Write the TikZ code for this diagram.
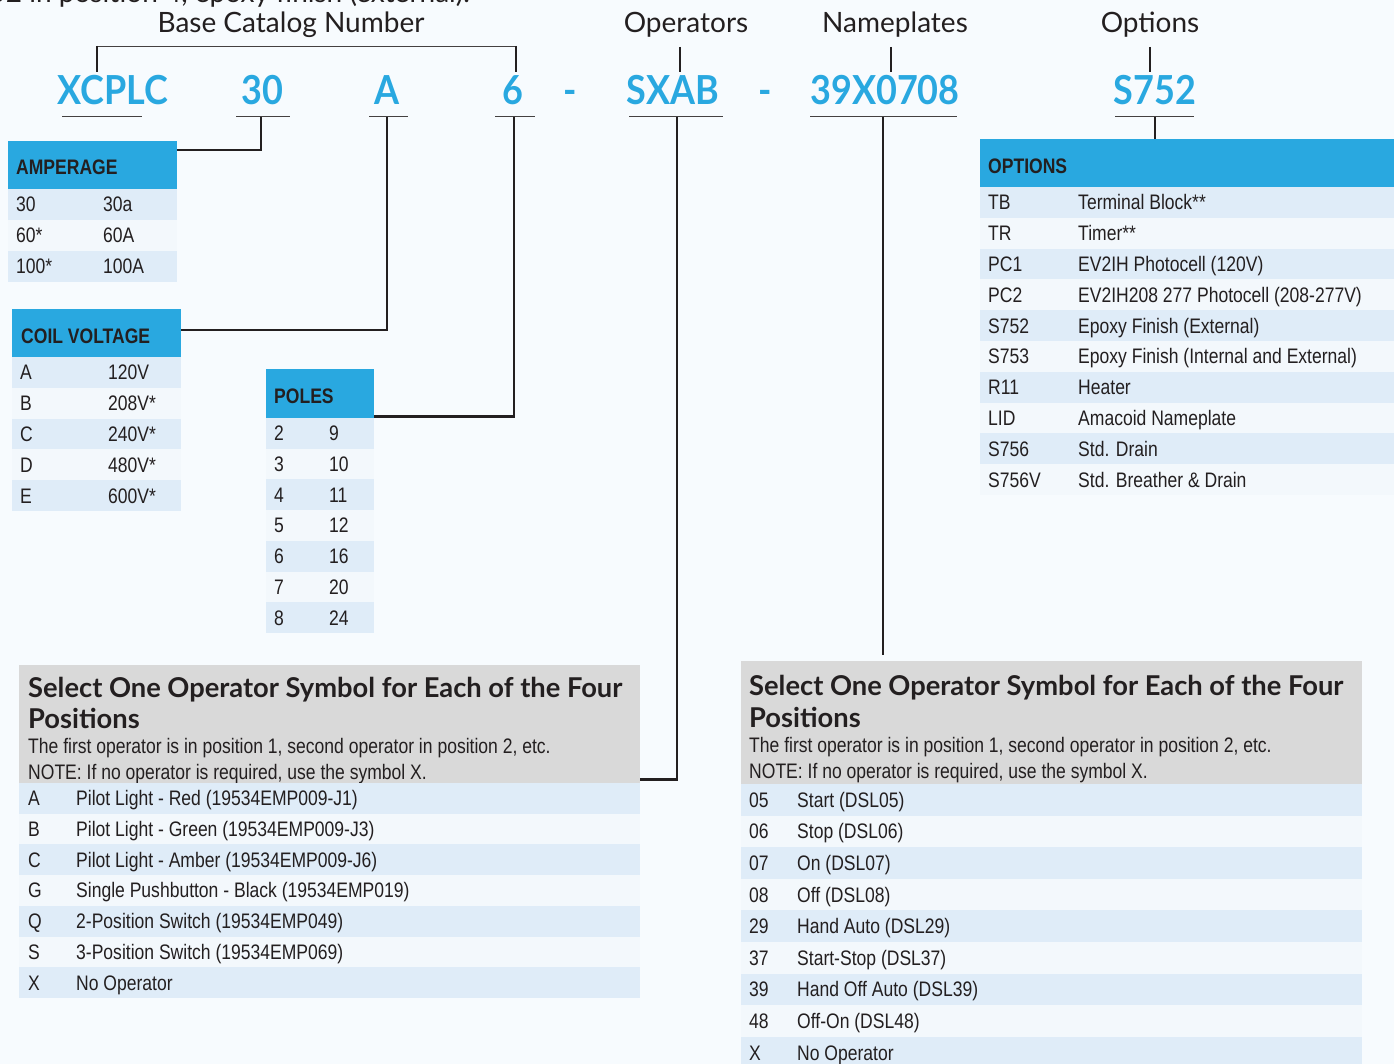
\documentclass[tikz,border=0pt]{standalone}
\usepackage{fontspec}
\setmainfont{Lato}
\newfontfamily\narrow[FakeStretch=0.835]{Liberation Sans}
\newfontfamily\codefont[FakeStretch=0.9]{Lato}
\definecolor{bg}{HTML}{F7FBFE}
\definecolor{hblue}{HTML}{29A8E0}
\definecolor{rowa}{HTML}{DFECF8}
\definecolor{rowb}{HTML}{F3F8FC}
\definecolor{gbox}{HTML}{D9D9D9}
\definecolor{ink}{HTML}{231F20}
\definecolor{codeblue}{HTML}{29A8E0}
\newcommand\tabrows[8]{%
\foreach \a/\b [count=\i from 0] in {#8}{
  \pgfmathtruncatemacro\oddrow{mod(\i,2)}
  \pgfmathsetmacro\yt{#4+\i*#5}
  \pgfmathsetmacro\yb{\yt+#5}
  \pgfmathsetmacro\ybase{\yt+#5/2+7.5}
  \ifnum\oddrow=0 \def\rc{rowa}\else\def\rc{rowb}\fi
  \fill[\rc] (#2,\yt) rectangle (#3,\yb);
  \node[cell] (#1-\i-a) at (#6,\ybase) {\a};
  \node[cell] (#1-\i-b) at (#7,\ybase) {\b};
}}
\begin{document}
\begin{tikzpicture}[x=1pt,y=-1pt,
  toplabel/.style={font=\fontsize{28}{30}\selectfont, text=ink, anchor=base, inner sep=0},
  codetxt/.style={font=\codefont\fontsize{40}{42}\selectfont\bfseries, text=codeblue, anchor=base, inner sep=0},
  cell/.style={font=\narrow\fontsize{21}{23}\selectfont, text=ink, anchor=base west, inner sep=0},
  hdrtxt/.style={font=\narrow\fontsize{21}{22}\selectfont\bfseries, text=ink, anchor=base west, inner sep=0},
  hdrbox/.style={fill=hblue, anchor=north west, inner sep=0},
  graybox/.style={fill=gbox, anchor=north west, inner sep=0},
  gtitle/.style={font=\fontsize{27.3}{29}\selectfont\bfseries, text=ink, anchor=base west, inner sep=0},
  gbody/.style={font=\narrow\fontsize{21}{23}\selectfont, text=ink, anchor=base west, inner sep=0},
  conn/.style={draw=ink, line width=2.5pt},
  uline/.style={draw=ink!85, line width=1pt},
  thinl/.style={draw=ink!85, line width=0.9pt}]
\useasboundingbox (0,0) rectangle (1394,1064);
\clip (0,0) rectangle (1394,1064);
\fill[bg] (0,0) rectangle (1394,1064);

% cut-off text at the very top
\node[toplabel, anchor=base east] (cut) at (470,3) {option S752 in position 4, epoxy finish (external).};

% top labels
\node[toplabel] (lbase) at (291,33) {Base Catalog Number};
\node[toplabel] (lops) at (686,33) {Operators};
\node[toplabel] (lname) at (895,33) {Nameplates};
\node[toplabel] (lopt) at (1150,33) {Options};

\draw[thinl] (97,46) -- (516,46);
\draw[conn] (97,46) -- (97,72);
\draw[conn] (516,46) -- (516,72);
\draw[conn] (680,47) -- (680,72);
\draw[conn] (891,47) -- (891,72);
\draw[conn] (1150,47) -- (1150,72);

% code row
\node[codetxt] (cx) at (113,105) {XCPLC};
\node[codetxt] (c30) at (262,105) {30};
\node[codetxt] (ca) at (387,105) {A};
\node[codetxt] (c6) at (513,105) {6};
\node[codetxt] (d1) at (570,105) {-};
\node[codetxt] (cs) at (673,105) {SXAB};
\node[codetxt] (d2) at (765,105) {-};
\node[codetxt] (cn) at (885,105) {39X0708};
\node[codetxt] (co) at (1155,105) {S752};

\draw[uline] (62,117) -- (142,117);
\draw[uline] (236,117) -- (290,117);
\draw[uline] (369,117) -- (408,117);
\draw[uline] (495,117) -- (535,117);
\draw[uline] (629,117) -- (723,117);
\draw[uline] (810,117) -- (957,117);
\draw[uline] (1115,117) -- (1194,117);

\coordinate (u30) at (261,117);
\coordinate (ua) at (387,117);
\coordinate (u6) at (514,117);
\coordinate (us) at (677,117);
\coordinate (un) at (883,117);
\coordinate (uo) at (1155,117);

% AMPERAGE
\node[hdrbox, minimum width=169pt, minimum height=48pt] (amph) at (8,141) {};
\node[hdrtxt] (ampt) at (16,175) {AMPERAGE};
\tabrows{amp}{8}{177}{189}{31}{16}{103}{30/30a, 60*/60A, 100*/100A}

% COIL VOLTAGE
\node[hdrbox, minimum width=169pt, minimum height=48pt] (coilh) at (12,309) {};
\node[hdrtxt] (coilt) at (21,344) {COIL VOLTAGE};
\tabrows{coil}{12}{181}{357}{30.8}{20}{108}{A/120V, B/208V*, C/240V*, D/480V*, E/600V*}

% POLES
\node[hdrbox, minimum width=108pt, minimum height=49pt] (poleh) at (266,369) {};
\node[hdrtxt] (polet) at (274,403) {POLES};
\tabrows{pole}{266}{374}{418}{30.7}{274}{329}{2/9, 3/10, 4/11, 5/12, 6/16, 7/20, 8/24}

% OPTIONS
\node[hdrbox, minimum width=414pt, minimum height=48pt] (opth) at (980,139) {};
\node[hdrtxt] (optt) at (988,174) {OPTIONS};
\tabrows{opt}{980}{1394}{187}{30.8}{988}{1078}{TB/Terminal Block**, TR/Timer**, PC1/EV2IH Photocell (120V), PC2/EV2IH208 277 Photocell (208-277V), S752/Epoxy Finish (External), S753/Epoxy Finish (Internal and External), R11/Heater, LID/Amacoid Nameplate, S756/Std. Drain, S756V/Std. Breather \& Drain}

% left operator box
\node[graybox, minimum width=621pt, minimum height=118pt] (lg) at (19,665) {};
\node[gtitle] (lg1) at (28,697) {Select One Operator Symbol for Each of the Four};
\node[gtitle] (lg2) at (28,728) {Positions};
\node[gbody] (lg3) at (28,753) {The first operator is in position 1, second operator in position 2, etc.};
\node[gbody] (lg4) at (28,779) {NOTE: If no operator is required, use the symbol X.};
\tabrows{lop}{19}{640}{783}{30.7}{28}{76}{A/Pilot Light - Red (19534EMP009-J1), B/Pilot Light - Green (19534EMP009-J3), C/Pilot Light - Amber (19534EMP009-J6), G/Single Pushbutton - Black (19534EMP019), Q/2-Position Switch (19534EMP049), S/3-Position Switch (19534EMP069), X/No Operator}

% right operator box
\node[graybox, minimum width=621pt, minimum height=123pt] (rg) at (741,661) {};
\node[gtitle] (rg1) at (749,695) {Select One Operator Symbol for Each of the Four};
\node[gtitle] (rg2) at (749,727) {Positions};
\node[gbody] (rg3) at (749,752) {The first operator is in position 1, second operator in position 2, etc.};
\node[gbody] (rg4) at (749,778) {NOTE: If no operator is required, use the symbol X.};
\tabrows{rop}{741}{1362}{784}{31.6}{749}{797}{05/Start (DSL05), 06/Stop (DSL06), 07/On (DSL07), 08/Off (DSL08), 29/Hand Auto (DSL29), 37/Start-Stop (DSL37), 39/Hand Off Auto (DSL39), 48/Off-On (DSL48), X/No Operator}

% connectors
\draw[conn] (u30) |- ([yshift=-9pt]amph.north east);
\draw[conn] (ua) |- ([yshift=-21pt]coilh.north east);
\draw[conn] (u6) |- ([yshift=2pt]poleh.south east);
\draw[conn] (us) |- ([yshift=4pt]lg.south east);
\draw[conn] (un) -- ([yshift=6pt]un |- rg.north);
\draw[conn] (uo) -- (uo |- opth.north);
\end{tikzpicture}
\end{document}
